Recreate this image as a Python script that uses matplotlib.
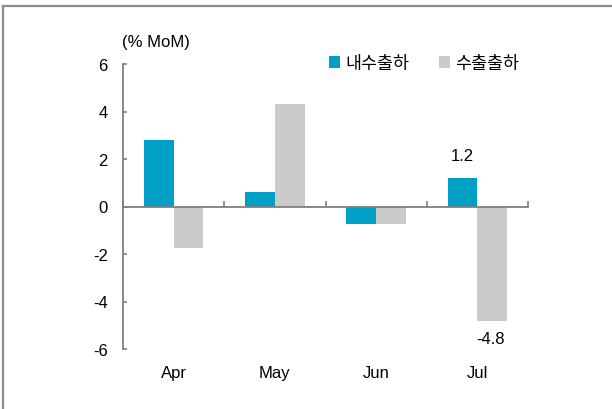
import matplotlib.pyplot as plt
from matplotlib.lines import Line2D
from matplotlib.patches import Patch
import numpy as np

plt.rcParams['font.family'] = ['Liberation Sans', 'Noto Sans CJK KR', 'DejaVu Sans']

# --- data
months = ["Apr", "May", "Jun", "Jul"]
domestic = [2.8, 0.63, -0.72, 1.2]     # 내수출하
export = [-1.75, 4.33, -0.72, -4.8]    # 수출출하
series_names = ["내수출하", "수출출하"]

TEAL = "#00A0C6"
GRAY = "#CBCBCB"
AXIS = "#7F7F7F"
FS = 12

fig = plt.figure(figsize=(6.12, 4.10), dpi=100)
ax = fig.add_axes([123 / 612, 1 - 350 / 410, (528 - 123) / 612, (350 - 65) / 410])

x = np.arange(len(months))
w = 0.295
ax.bar(x - w / 2, domestic, width=w, color=TEAL, zorder=2)
ax.bar(x + w / 2, export, width=w, color=GRAY, zorder=2)

ax.set_xlim(-0.5, len(months) - 0.5)
ax.set_ylim(-6, 6)
ax.set_yticks(np.arange(-6, 7, 2))
ax.set_yticklabels([str(v) for v in range(-6, 7, 2)], fontsize=FS)

ax.spines["top"].set_visible(False)
ax.spines["right"].set_visible(False)
ax.spines["bottom"].set_position(("data", 0))
for s in ["left", "bottom"]:
    ax.spines[s].set_color(AXIS)
    ax.spines[s].set_linewidth(1.3)
    ax.spines[s].set_zorder(3)

ax.set_xticks(np.arange(len(months) + 1) - 0.5)
ax.set_xticklabels([])
ax.tick_params(axis="x", direction="in", length=4, color=AXIS, width=1.2)
ax.tick_params(axis="y", direction="in", length=3, color=AXIS, width=1.2, pad=11)

# month labels below the plot
for i, m in enumerate(months):
    ax.text(i, -7.0, m, ha="center", va="center", fontsize=FS)

# value labels
ax.text(3 - w / 2, 2.15, "1.2", ha="center", va="center", fontsize=FS)
ax.text(3 + w / 2 - 0.02, -5.55, "-4.8", ha="center", va="center", fontsize=FS)

fig.text(122 / 612, 1 - 42 / 410, "(% MoM)", ha="left", va="center", fontsize=FS)

handles = [Patch(facecolor=TEAL), Patch(facecolor=GRAY)]
fig.legend(handles, series_names, loc="center left",
           bbox_to_anchor=(320 / 612, 1 - 64 / 410), ncol=2, frameon=False,
           fontsize=12.5, handlelength=0.65, handleheight=0.65,
           handletextpad=0.3, columnspacing=1.72, borderpad=0)

# outer frame (top and left visible)
fig.add_artist(Line2D([3 / 612, 3 / 612], [0, 1 - 7 / 410], color="#8C8C8C",
                      lw=1.6, transform=fig.transFigure))
fig.add_artist(Line2D([3 / 612, 1], [1 - 7 / 410, 1 - 7 / 410], color="#8C8C8C",
                      lw=1.6, transform=fig.transFigure))

fig.savefig("out.png", dpi=100, facecolor="white")
